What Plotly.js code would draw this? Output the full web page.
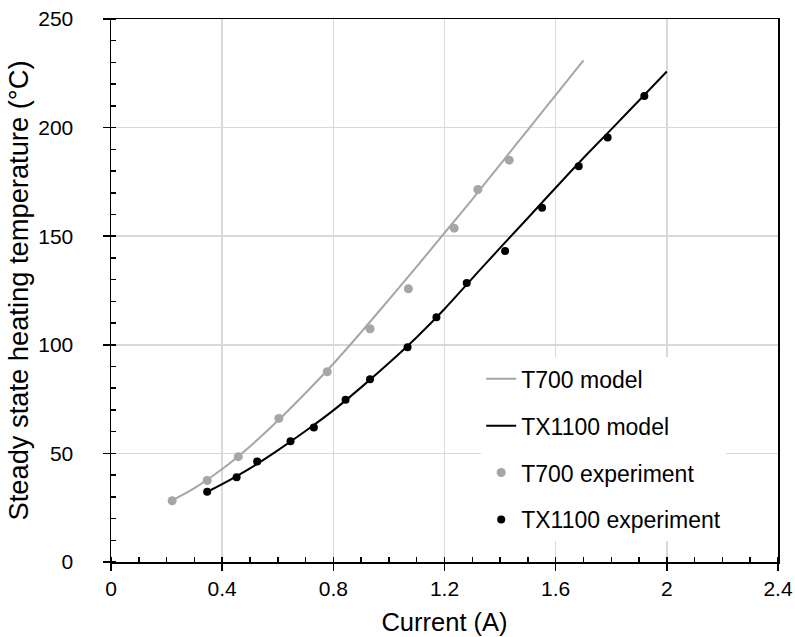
<!DOCTYPE html>
<html>
<head>
<meta charset="utf-8">
<script src="https://cdn.plot.ly/plotly-3.0.1.min.js"></script>
<style>html,body{margin:0;padding:0;background:#fff;}#chart{width:795px;height:637px;}</style>
</head>
<body>
<div id="chart"></div>
<script>
// Model curves
const t700ModelX = [0.22, 0.3, 0.4, 0.5, 0.6, 0.7, 0.8, 0.9, 1.0, 1.1, 1.2, 1.3, 1.4, 1.5, 1.6, 1.7];
const t700ModelY = [28.4, 34.0, 42.8, 53.2, 65.0, 77.8, 91.3, 105.8, 120.8, 136.0, 151.5, 167.0, 183.0, 199.0, 215.0, 231.0];
const tx1100ModelX = [0.35, 0.4, 0.5, 0.6, 0.7, 0.8, 0.9, 1.0, 1.1, 1.2, 1.3, 1.4, 1.5, 1.6, 1.7, 1.8, 1.9, 2.0];
const tx1100ModelY = [32.5, 35.8, 43.1, 51.4, 60.3, 69.8, 80.4, 91.6, 103.5, 116.5, 130.6, 144.6, 158.4, 172.3, 186.0, 199.2, 212.5, 225.8];
// Experimental points
const t700ExpX = [0.220, 0.346, 0.458, 0.604, 0.778, 0.932, 1.070, 1.235, 1.320, 1.433];
const t700ExpY = [28.2, 37.5, 48.5, 66.1, 87.6, 107.4, 125.8, 153.7, 171.5, 185.0];
const tx1100ExpX = [0.346, 0.452, 0.526, 0.646, 0.730, 0.844, 0.932, 1.067, 1.171, 1.280, 1.418, 1.551, 1.683, 1.787, 1.919];
const tx1100ExpY = [32.3, 39.0, 46.3, 55.6, 61.9, 74.7, 84.1, 98.9, 112.7, 128.4, 143.2, 163.1, 182.2, 195.4, 214.6];
// Labels
const seriesNames = ["T700 model", "TX1100 model", "T700 experiment", "TX1100 experiment"];
const xTitle = "Current (A)";
const yTitle = "Steady state heating temperature (°C)";

const GRAY = "#a6a6a6";
const FONT = "Liberation Sans, Arial, sans-serif";

const traces = [
  {x: t700ModelX, y: t700ModelY, type: "scatter", mode: "lines", name: seriesNames[0], legendgroup: "a",
   line: {color: GRAY, width: 2, shape: "spline", smoothing: 1}},
  {x: tx1100ModelX, y: tx1100ModelY, type: "scatter", mode: "lines", name: seriesNames[1], legendgroup: "b",
   line: {color: "#000000", width: 2, shape: "spline", smoothing: 1}},
  {x: t700ExpX, y: t700ExpY, type: "scatter", mode: "markers", name: seriesNames[2], legendgroup: "c",
   marker: {color: GRAY, size: 9}},
  {x: tx1100ExpX, y: tx1100ExpY, type: "scatter", mode: "markers", name: seriesNames[3], legendgroup: "d",
   marker: {color: "#000000", size: 8}}
];

const layout = {
  width: 795, height: 637,
  margin: {l: 111, r: 17, t: 19, b: 75},
  paper_bgcolor: "#ffffff", plot_bgcolor: "#ffffff",
  font: {family: FONT, color: "#000000", size: 21},
  showlegend: true,
  legend: {x: 0.555, xanchor: "left", y: 0.377, yanchor: "top", bgcolor: "#ffffff",
           font: {family: FONT, size: 23, color: "#000"}, traceorder: "grouped", tracegroupgap: 14,
           itemwidth: 30},
  xaxis: {
    range: [0, 2.4], dtick: 0.4, tick0: 0,
    showgrid: true, gridcolor: "#d9d9d9", gridwidth: 1.5,
    showline: true, linecolor: "#000", linewidth: 1.5, mirror: true,
    ticks: "outside", ticklen: 7, tickwidth: 1.5, tickcolor: "#000",
    minor: {dtick: 0.1, ticks: "inside", ticklen: 5, tickwidth: 1.5, tickcolor: "#000", showgrid: false},
    zeroline: false,
    tickfont: {family: FONT, size: 21},
    title: {text: xTitle, font: {family: FONT, size: 25.5}, standoff: 14}
  },
  yaxis: {
    range: [0, 250], dtick: 50, tick0: 0,
    showgrid: true, gridcolor: "#d9d9d9", gridwidth: 1.5,
    showline: true, linecolor: "#000", linewidth: 1.5, mirror: true,
    ticks: "outside", ticklen: 7, tickwidth: 1.5, tickcolor: "#000",
    minor: {dtick: 10, ticks: "inside", ticklen: 5, tickwidth: 1.5, tickcolor: "#000", showgrid: false},
    zeroline: false,
    tickfont: {family: FONT, size: 21},
    ticklabelstandoff: 25,
    title: {text: yTitle, font: {family: FONT, size: 27.3}, standoff: 1}
  },
  xaxis2: {overlaying: "x", side: "bottom", range: [0, 2.4], dtick: 0.4, tick0: 0, matches: "x",
    ticks: "inside", ticklen: 6, tickwidth: 1.5, tickcolor: "#000", showticklabels: false,
    showgrid: false, showline: false, zeroline: false},
  yaxis2: {overlaying: "y", side: "left", range: [0, 250], dtick: 50, tick0: 0, matches: "y",
    ticks: "inside", ticklen: 6, tickwidth: 1.5, tickcolor: "#000", showticklabels: false,
    showgrid: false, showline: false, zeroline: false}
};

Plotly.newPlot("chart", traces, layout, {displayModeBar: false, staticPlot: true});
</script>
</body>
</html>
